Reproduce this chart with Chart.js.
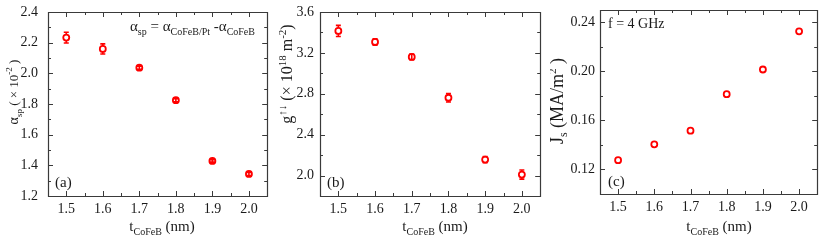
<!DOCTYPE html>
<html>
<head>
<meta charset="utf-8">
<script src="https://cdn.jsdelivr.net/npm/chart.js@4.4.1/dist/chart.umd.min.js"></script>
<style>
  html, body { margin: 0; padding: 0; background: #fff; }
  #wrap { position: relative; width: 822px; height: 247px; overflow: hidden; }
  .panel { position: absolute; top: 0; height: 247px; }
</style>
</head>
<body>
<div id="wrap">
  <div class="panel" style="left:0px;width:272px"><canvas id="cA"></canvas></div>
  <div class="panel" style="left:275px;width:270px"><canvas id="cB"></canvas></div>
  <div class="panel" style="left:550px;width:272px"><canvas id="cC"></canvas></div>
</div>
<script>
// ---------------- data ----------------
const thickness = [1.5, 1.6, 1.7, 1.8, 1.9, 2.0];
const alphaSp = [2.233, 2.159, 2.037, 1.825, 1.429, 1.344];
const alphaSpErr = [0.035, 0.033, 0.010, 0.010, 0.008, 0.010];
const gMix = [3.415, 3.307, 3.161, 2.761, 2.156, 2.010];
const gMixErr = [0.054, 0.032, 0.028, 0.042, 0.031, 0.045];
const jS = [0.1276, 0.1405, 0.1516, 0.1814, 0.2015, 0.2326];
const jSErr = [0, 0, 0, 0, 0, 0];

const xTicks = [1.5, 1.6, 1.7, 1.8, 1.9, 2.0];
const xMinor = [1.45, 1.55, 1.65, 1.75, 1.85, 1.95, 2.05];
const alphaTicks = [1.2, 1.4, 1.6, 1.8, 2.0, 2.2, 2.4];
const alphaMinor = [1.3, 1.5, 1.7, 1.9, 2.1, 2.3];
const gTicks = [2.0, 2.4, 2.8, 3.2, 3.6];
const gMinor = [1.8, 2.2, 2.6, 3.0, 3.4];
const jTicks = [0.12, 0.16, 0.20, 0.24];
const jMinor = [0.10, 0.14, 0.18, 0.22];

const FONT = '"Liberation Serif", "DejaVu Serif", serif';
const RED = '#ff0000';
const AXIS = '#3a3a3a';

function drawRich(ctx, parts, x, y, align, rotate) {
  let widths = parts.map(p => { ctx.font = p[1] + 'px ' + FONT; return ctx.measureText(p[0]).width; });
  const total = widths.reduce((a, b) => a + b, 0);
  ctx.save();
  ctx.translate(x, y);
  if (rotate) ctx.rotate(-Math.PI / 2);
  let cx = align === 'center' ? -total / 2 : 0;
  ctx.fillStyle = '#1a1a1a';
  ctx.textBaseline = 'alphabetic';
  ctx.textAlign = 'left';
  parts.forEach((p, i) => {
    ctx.font = p[1] + 'px ' + FONT;
    ctx.fillText(p[0], cx, p[2] || 0);
    cx += widths[i];
  });
  ctx.restore();
}

const decorPlugin = {
  id: 'decor',
  afterDatasetsDraw(chart, args, o) {
    const { ctx, scales: { x, y } } = chart;
    const r = 3;
    ctx.save();
    ctx.strokeStyle = RED;
    ctx.lineWidth = 1.6;
    o.err.forEach((e, i) => {
      if (!e) return;
      const px = x.getPixelForValue(o.xs[i]);
      const py = y.getPixelForValue(o.ys[i]);
      const top = y.getPixelForValue(o.ys[i] + e);
      const bot = y.getPixelForValue(o.ys[i] - e);
      ctx.beginPath();
      if (py - top > r) {
        ctx.moveTo(px, top); ctx.lineTo(px, py - r);
        ctx.moveTo(px, py + r); ctx.lineTo(px, bot);
      } else {
        ctx.moveTo(px, py - r); ctx.lineTo(px, py + r);
      }
      ctx.moveTo(px - 2.5, top); ctx.lineTo(px + 2.5, top);
      ctx.moveTo(px - 2.5, bot); ctx.lineTo(px + 2.5, bot);
      ctx.stroke();
    });
    ctx.restore();
  },
  afterDraw(chart, args, o) {
    const { ctx, chartArea: { left, right, top, bottom }, scales: { x, y } } = chart;
    ctx.save();
    ctx.strokeStyle = AXIS;
    ctx.lineWidth = 1.2;
    ctx.beginPath();
    ctx.rect(Math.round(left) + 0.5, Math.round(top) + 0.5, Math.round(right - left), Math.round(bottom - top));
    ctx.stroke();
    ctx.lineWidth = 1;
    const tick = (vals, len, isX) => {
      vals.forEach(v => {
        if (isX) {
          const p = Math.round(x.getPixelForValue(v)) + 0.5;
          if (p < left + 1 || p > right - 1) return;
          ctx.moveTo(p, bottom); ctx.lineTo(p, bottom - len);
          ctx.moveTo(p, top); ctx.lineTo(p, top + len);
        } else {
          const p = Math.round(y.getPixelForValue(v)) + 0.5;
          if (p < top + 1 || p > bottom - 1) return;
          ctx.moveTo(left, p); ctx.lineTo(left + len, p);
          ctx.moveTo(right, p); ctx.lineTo(right - len, p);
        }
      });
    };
    ctx.beginPath();
    tick(o.xMajor, 5, true); tick(o.xMinor, 3, true);
    tick(o.yMajor, 5, false); tick(o.yMinor, 3, false);
    ctx.stroke();
    ctx.restore();
    o.texts.forEach(t => drawRich(ctx, t.parts, t.x, t.y, t.align, t.rotate));
  }
};

const xTitle = (cx) => ({ parts: [['t', 15], ['CoFeB', 10, 4], [' (nm)', 15]], x: cx, y: 231, align: 'center' });

function makePanel(id, p) {
  const chart = new Chart(document.getElementById(id), {
    type: 'scatter',
    data: {
      datasets: [{
        data: p.xs.map((v, i) => ({ x: v, y: p.ys[i] })),
        pointStyle: 'circle',
        pointRadius: 3,
        pointHoverRadius: 3,
        borderWidth: 1.8,
        borderColor: RED,
        backgroundColor: '#ffffff'
      }]
    },
    options: {
      responsive: true,
      maintainAspectRatio: false,
      animation: false,
      events: [],
      layout: { padding: { top: p.area.top, right: 0, left: 0, bottom: 0 } },
      plugins: {
        legend: { display: false },
        tooltip: { enabled: false },
        decor: {
          xs: p.xs, ys: p.ys, err: p.err,
          xMajor: xTicks, xMinor: xMinor,
          yMajor: p.yTicks, yMinor: p.yMinor,
          texts: p.texts
        }
      },
      scales: {
        x: {
          type: 'linear', min: 1.45, max: 2.05,
          grid: { display: false, drawTicks: false },
          border: { display: false },
          afterBuildTicks: s => { s.ticks = xTicks.map(v => ({ value: v })); },
          afterFit: s => { s.height = p.xH; s.paddingLeft = 0; s.paddingRight = 0; },
          ticks: { padding: 5, color: '#1a1a1a', font: { family: FONT, size: 14 }, callback: v => v.toFixed(1), maxRotation: 0 }
        },
        y: {
          type: 'linear', min: p.yMin, max: p.yMax,
          grid: { display: false, drawTicks: false },
          border: { display: false },
          afterBuildTicks: s => { s.ticks = p.yTicks.map(v => ({ value: v })); },
          afterFit: s => { s.width = p.yW; s.paddingTop = 0; s.paddingBottom = 0; },
          ticks: { padding: p.tickPad, color: '#1a1a1a', font: { family: FONT, size: 14 }, callback: v => v.toFixed(p.dec) }
        }
      }
    },
    plugins: [decorPlugin]
  });
  // calibrate layout so the plot frame lands on the target rectangle
  const t = p.area;
  let padTop = t.top, padRight = 0;
  p.yW = t.left; p.xH = 247 - t.bottom;
  for (let k = 0; k < 3; k++) {
    const ca = chart.chartArea;
    padTop += t.top - ca.top;
    padRight += ca.right - t.right;
    p.yW += t.left - ca.left;
    p.xH += ca.bottom - t.bottom;
    chart.options.layout.padding = { top: padTop, right: padRight, left: 0, bottom: 0 };
    chart.update();
  }
}

makePanel('cA', {
  xs: thickness, ys: alphaSp, err: alphaSpErr,
  yMin: 1.2, yMax: 2.4, yTicks: alphaTicks, yMinor: alphaMinor, dec: 1, tickPad: 10,
  yW: 48, xH: 51, area: { left: 48, right: 268, top: 12, bottom: 196 },
  texts: [
    xTitle(162),
    { parts: [['α', 14], ['sp', 9, 4], [' ( × 10', 13], ['-2', 9, -6], [' )', 13]], x: 18, y: 92, align: 'center', rotate: true },
    { parts: [['α', 15], ['sp', 10, 4], [' = α', 15], ['CoFeB/Pt', 10, 4], [' -α', 15], ['CoFeB', 10, 4]], x: 130, y: 31, align: 'left' },
    { parts: [['(a)', 15]], x: 55, y: 187, align: 'left' }
  ]
});

makePanel('cB', {
  xs: thickness, ys: gMix, err: gMixErr,
  yMin: 1.8, yMax: 3.6, yTicks: gTicks, yMinor: gMinor, dec: 1, tickPad: 6,
  yW: 45, xH: 51, area: { left: 45, right: 266, top: 12, bottom: 196 },
  texts: [
    xTitle(160),
    { parts: [['g', 16], ['↑↓', 11, -6], [' (× 10', 16], ['18', 11, -6], [' m', 16], ['-2', 11, -6], [')', 16]], x: 17, y: 74, align: 'center', rotate: true },
    { parts: [['(b)', 15]], x: 52, y: 187, align: 'left' }
  ]
});

makePanel('cC', {
  xs: thickness, ys: jS, err: jSErr,
  yMin: 0.10, yMax: 0.25, yTicks: jTicks, yMinor: jMinor, dec: 2, tickPad: 5,
  yW: 50, xH: 53, area: { left: 50, right: 269, top: 10, bottom: 194 },
  texts: [
    xTitle(169),
    { parts: [['J', 18], ['s', 12, 4], [' (MA/m', 18], ['2', 11, -7], [' )', 18]], x: 13, y: 101, align: 'center', rotate: true },
    { parts: [['f = 4 GHz', 14]], x: 58, y: 28, align: 'left' },
    { parts: [['(c)', 15]], x: 58, y: 186, align: 'left' }
  ]
});
</script>
</body>
</html>
